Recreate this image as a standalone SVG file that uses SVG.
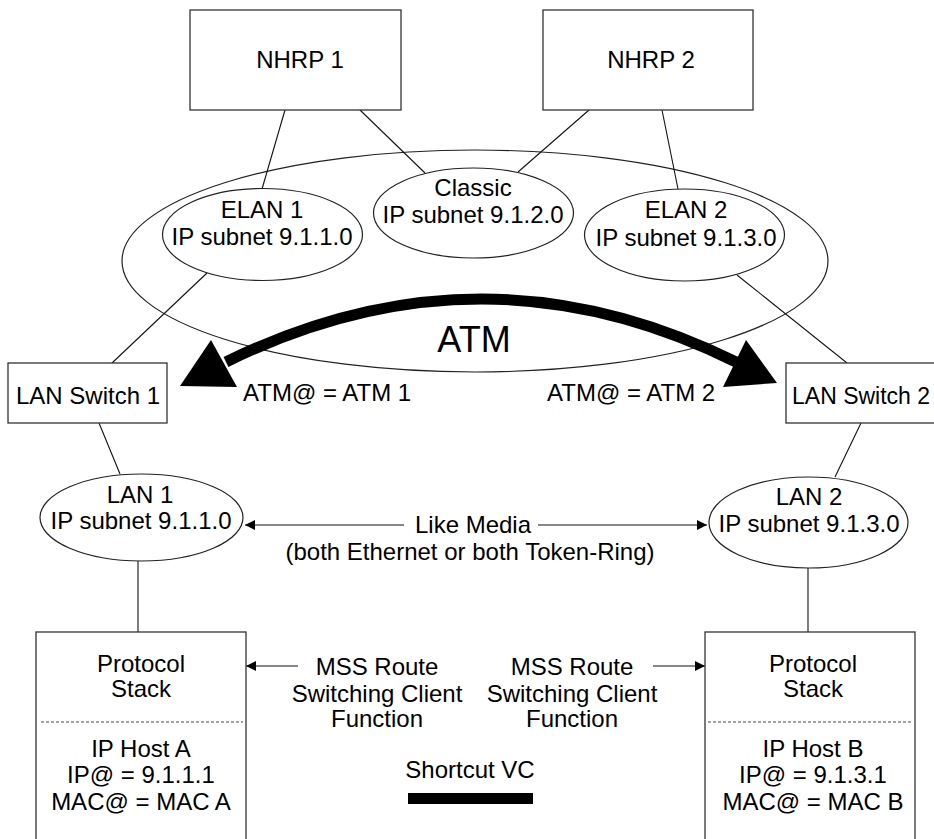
<svg xmlns="http://www.w3.org/2000/svg" width="934" height="839" viewBox="0 0 934 839">
<defs>
<style>
text{font-family:"Liberation Sans",Arial,sans-serif;font-size:24px;fill:#000;text-anchor:middle}
.box{fill:#fff;stroke:#333;stroke-width:1.3}
.ell{fill:none;stroke:#222;stroke-width:1.2}
.ln{fill:none;stroke:#111;stroke-width:1.1}
.dash{stroke:#444;stroke-width:1;stroke-dasharray:3 2}
</style>
<marker id="ah" viewBox="0 0 10 10" refX="10" refY="5" markerWidth="10" markerHeight="10" markerUnits="userSpaceOnUse" orient="auto">
<path d="M0,0 L10,5 L0,10 Z" fill="#000"/>
</marker>
</defs>
<rect width="934" height="839" fill="#fff"/>

<g id="atm-cloud">
<ellipse class="ell" cx="475" cy="261" rx="353" ry="111"/>
<text x="474" y="352" style="font-size:36px">ATM</text>
</g>

<g id="connectors">
<line class="ln" x1="285" y1="110" x2="262" y2="189"/>
<line class="ln" x1="360" y1="110" x2="425" y2="173"/>
<line class="ln" x1="589" y1="110" x2="518" y2="172"/>
<line class="ln" x1="662" y1="110" x2="678" y2="189"/>
<line class="ln" x1="207" y1="273" x2="112" y2="363"/>
<line class="ln" x1="737" y1="275" x2="847" y2="363"/>
<line class="ln" x1="99" y1="423" x2="120" y2="474"/>
<line class="ln" x1="861" y1="423" x2="835" y2="477"/>
<line class="ln" x1="138" y1="561" x2="138" y2="632"/>
<line class="ln" x1="808" y1="568" x2="808" y2="632"/>
<line class="ln" x1="404" y1="525" x2="245" y2="525" marker-end="url(#ah)"/>
<line class="ln" x1="538" y1="525" x2="707" y2="525" marker-end="url(#ah)"/>
<line class="ln" x1="298" y1="666" x2="246" y2="666" marker-end="url(#ah)"/>
<line class="ln" x1="653" y1="666" x2="705" y2="666" marker-end="url(#ah)"/>
<path d="M226,362 Q482,236 736,362" fill="none" stroke="#000" stroke-width="11"/>
<polygon points="180,386 211,340 237,387" fill="#000"/>
<polygon points="777,383 746,340 723,387" fill="#000"/>
</g>

<g id="nhrp1">
<rect class="box" x="190" y="10" width="211" height="100"/>
<text x="300" y="68">NHRP 1</text>
</g>
<g id="nhrp2">
<rect class="box" x="543" y="10" width="210" height="100"/>
<text x="651" y="68">NHRP 2</text>
</g>

<g id="elan1">
<ellipse class="ell" cx="262.5" cy="234.5" rx="100" ry="46"/>
<text x="262" y="218">ELAN 1</text>
<text x="262" y="245">IP subnet 9.1.1.0</text>
</g>
<g id="classic">
<ellipse class="ell" cx="473.5" cy="213" rx="100" ry="45"/>
<text x="473" y="196">Classic</text>
<text x="473" y="223">IP subnet 9.1.2.0</text>
</g>
<g id="elan2">
<ellipse class="ell" cx="684.5" cy="235" rx="100" ry="46"/>
<text x="686" y="218">ELAN 2</text>
<text x="686" y="246">IP subnet 9.1.3.0</text>
</g>

<g id="lanswitch1">
<rect class="box" x="8" y="363" width="159" height="60"/>
<text x="88" y="404">LAN Switch 1</text>
</g>
<g id="lanswitch2">
<rect class="box" x="786" y="363" width="170" height="60"/>
<text x="792" y="404" style="text-anchor:start;font-size:23px">LAN Switch 2</text>
</g>

<g id="atm-labels">
<text x="243" y="401" style="text-anchor:start">ATM@ = ATM 1</text>
<text x="547" y="401" style="text-anchor:start">ATM@ = ATM 2</text>
</g>

<g id="lan1">
<ellipse class="ell" cx="141.5" cy="517.5" rx="101.5" ry="43.5"/>
<text x="140" y="503">LAN 1</text>
<text x="141" y="529">IP subnet 9.1.1.0</text>
</g>
<g id="lan2">
<ellipse class="ell" cx="808.5" cy="522.5" rx="99.5" ry="45.5"/>
<text x="809" y="505">LAN 2</text>
<text x="809" y="532">IP subnet 9.1.3.0</text>
</g>

<g id="like-media">
<text x="473" y="533">Like Media</text>
<text x="470" y="560">(both Ethernet or both Token-Ring)</text>
</g>

<g id="hostA">
<rect class="box" x="36" y="632" width="210" height="220"/>
<line class="dash" x1="41" y1="722" x2="243" y2="722"/>
<text x="141" y="672">Protocol</text>
<text x="141" y="697">Stack</text>
<text x="141" y="757">IP Host A</text>
<text x="141" y="783">IP@ = 9.1.1.1</text>
<text x="141" y="810">MAC@ = MAC A</text>
</g>
<g id="hostB">
<rect class="box" x="705" y="632" width="210" height="220"/>
<line class="dash" x1="708" y1="722" x2="912" y2="722"/>
<text x="813" y="672">Protocol</text>
<text x="813" y="697">Stack</text>
<text x="813" y="757">IP Host B</text>
<text x="813" y="783">IP@ = 9.1.3.1</text>
<text x="813" y="810">MAC@ = MAC B</text>
</g>

<g id="mss-left">
<text x="377" y="675">MSS Route</text>
<text x="377" y="702">Switching Client</text>
<text x="377" y="727">Function</text>
</g>
<g id="mss-right">
<text x="572" y="675">MSS Route</text>
<text x="572" y="702">Switching Client</text>
<text x="572" y="727">Function</text>
</g>

<g id="legend">
<text x="470" y="778">Shortcut VC</text>
<rect x="408" y="793" width="125" height="11" fill="#000"/>
</g>
</svg>
